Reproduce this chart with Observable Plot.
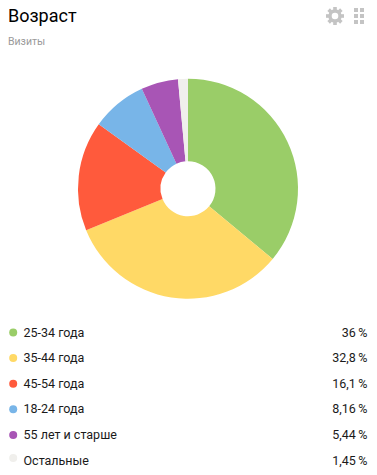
<!DOCTYPE html>
<html><head><meta charset="utf-8">
<script src="https://cdn.jsdelivr.net/npm/d3@7"></script>
<script src="https://cdn.jsdelivr.net/npm/@observablehq/plot@0.6"></script>
<style>
html,body{margin:0;padding:0;background:#fff;width:377px;height:475px;overflow:hidden;font-family:Roboto,sans-serif}
#head{position:relative;height:60px}
#title{position:absolute;left:8px;top:4px;font-size:18px;line-height:24px;color:#000}
#sub{position:absolute;left:8px;top:35px;font-size:10.5px;line-height:14px;color:#9a9a9a}
#icons{position:absolute;left:326px;top:7px}
svg{display:block}
</style></head><body>
<div id="head"><div id="title">Возраст</div><div id="sub">Визиты</div>
<svg id="icons" width="42" height="18" viewBox="0 0 42 18"><g fill="#c4c4c4">
<g id="gear"></g>
<rect x="28" y="1" width="4" height="4"/><rect x="34" y="1" width="4" height="4"/>
<rect x="28" y="7" width="4" height="4"/><rect x="34" y="7" width="4" height="4"/>
<rect x="28" y="13" width="4" height="4"/><rect x="34" y="13" width="4" height="4"/>
</g></svg></div>
<div id="pie"></div><div id="legend"></div>
<script>
const categories = ["25-34 года","35-44 года","45-54 года","18-24 года","55 лет и старше","Остальные"];
const values = [36,32.8,16.1,8.16,5.44,1.45];
const labels = ["36\u2009%","32,8\u2009%","16,1\u2009%","8,16\u2009%","5,44\u2009%","1,45\u2009%"];
const colors = ["#9ACD68","#FFD966","#FF5A3C","#78B5E8","#A855B5","#F0EFEC"];
const rows = categories.map((c,i)=>({c,v:values[i],l:labels[i]}));
const total = d3.sum(values);
const color = {domain:categories,range:colors};

// gear icon
const g = d3.select("#gear");
g.append("circle").attr("cx",9).attr("cy",9).attr("r",5).attr("fill","none").attr("stroke","#c4c4c4").attr("stroke-width",3.4);
for(let a=0;a<8;a++) g.append("rect").attr("x",7.2).attr("y",0).attr("width",3.6).attr("height",3.4).attr("transform",`rotate(${a*45} 9 9)`);

const R = 110, r0 = 27.5;
const pie = Plot.plot({
  width:377,height:258,margin:0,
  x:{domain:[0,total],range:[0,2*Math.PI],axis:null},
  y:{axis:null},
  color,
  marks:[Plot.barX(rows,Plot.stackX({x:"v",fill:"c",order:null,
    render(index,scales,vals){
      const arc = d3.arc().innerRadius(r0).outerRadius(R);
      const s = d3.create("svg:g").attr("transform","translate(188,128.7)");
      for(const i of index){
        s.append("path").attr("d",arc({startAngle:vals.x1[i],endAngle:vals.x2[i]})).attr("fill",vals.fill?vals.fill[i]:scales.color(rows[i].c));
      }
      return s.node();
    }}))]
});
document.getElementById("pie").append(pie);

const legend = Plot.plot({
  width:377,height:157,
  marginTop:0,marginBottom:0,marginLeft:0,marginRight:0,
  x:{domain:[0,377],range:[0,377],axis:null},
  y:{domain:categories,range:[14,142],padding:0,axis:null,type:"point",round:false},
  color,
  marks:[
    Plot.dot(rows.slice(0,5),{x:()=>12.7,y:"c",r:4,fill:"c"}),
    Plot.dot(rows.slice(5),{x:()=>12.7,y:"c",r:4,fill:"c",dy:-2.5}),
    Plot.text(rows,{x:()=>23,y:"c",text:"c",textAnchor:"start",fontSize:12.5,fill:"#1a1a1a"}),
    Plot.text(rows,{x:()=>367,y:"c",text:"l",textAnchor:"end",fontSize:12.5,fill:"#1a1a1a"})
  ]
});
legend.style.fontFamily="Roboto,sans-serif";
document.getElementById("legend").append(legend);
</script></body></html>
